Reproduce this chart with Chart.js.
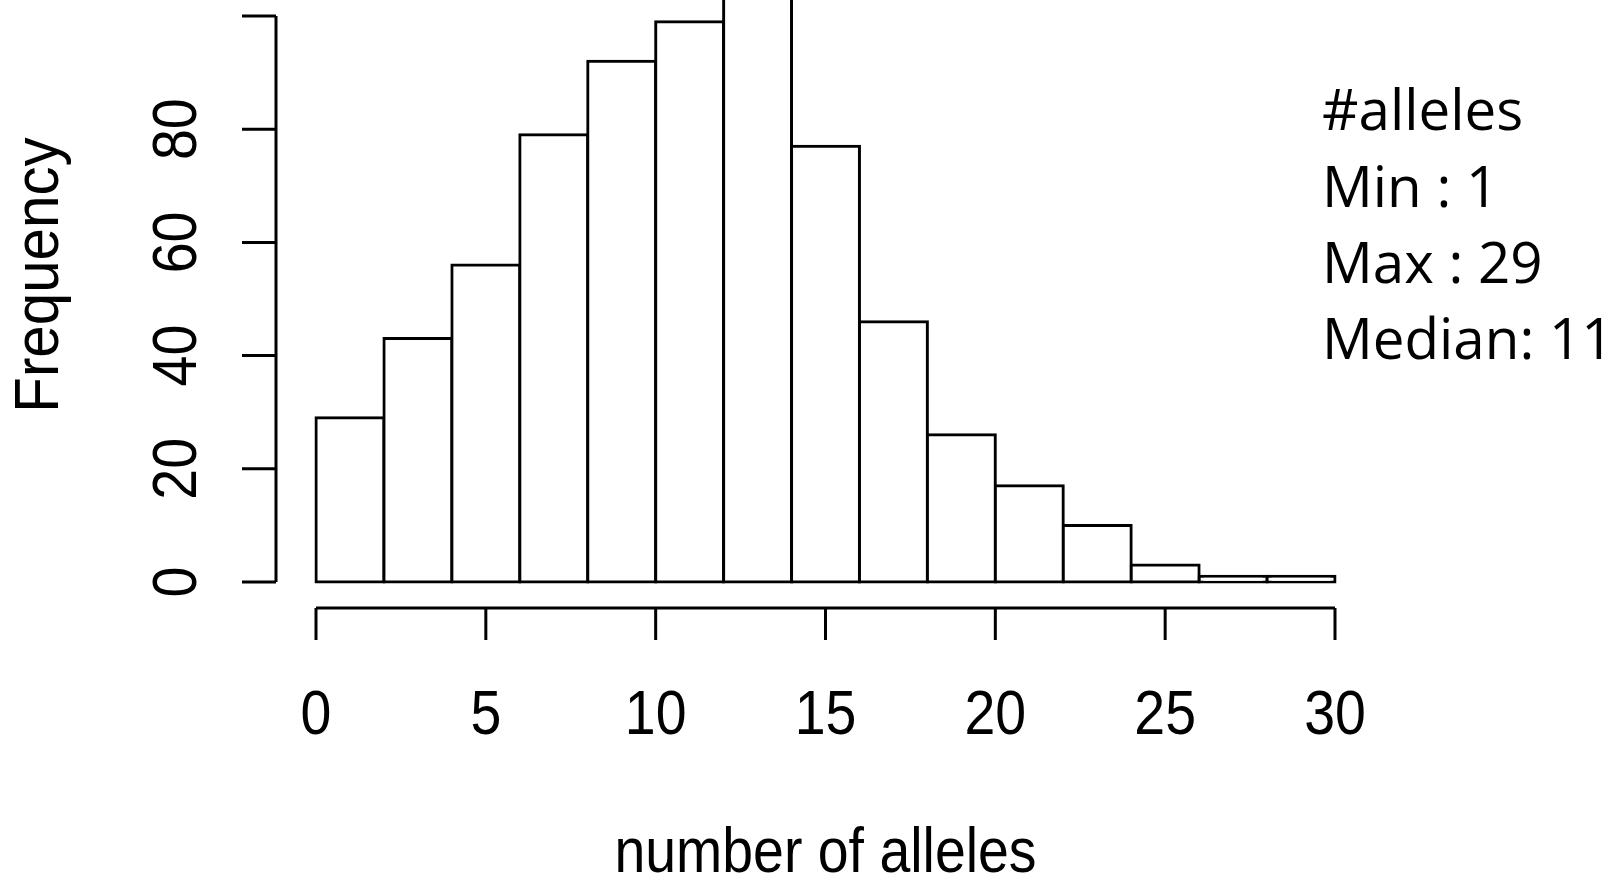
<!DOCTYPE html>
<html>
<head>
<meta charset="utf-8">
<title>number of alleles</title>
<style>
  html, body { margin: 0; padding: 0; background: #fff; overflow: hidden; }
</style>
</head>
<body>
<canvas id="hist" width="1618" height="880"></canvas>
<script src="https://cdn.jsdelivr.net/npm/chart.js@4/dist/chart.umd.min.js"></script>
<script>
// histogram bins (width 2, centre values) and their counts
const binMids = [1, 3, 5, 7, 9, 11, 13, 15, 17, 19, 21, 23, 25, 27, 29];
const frequency = [29, 43, 56, 79, 92, 99, 112, 77, 46, 26, 17, 10, 3, 1, 1];
const xTicks = [0, 5, 10, 15, 20, 25, 30];
const yTicks = [0, 20, 40, 60, 80, 100];
// the label of the top tick is cut off in the original picture
const yTickLabels = ["0", "20", "40", "60", "80", ""];
const statsLines = ["#alleles", "Min : 1", "Max : 29", "Median: 11"];

// draw text slightly condensed, like the R device font
function drawNarrow(ctx, text, x, y, rot, sx) {
	ctx.save();
	ctx.translate(x, y);
	ctx.rotate(rot);
	ctx.scale(sx || 0.88, 1);
	ctx.fillText(text, 0, 0);
	ctx.restore();
}

// base-R style axes: detached from the bars, only spanning the tick range
const rAxes = {
	id: "rAxes",
	afterDraw(chart) {
		const ctx = chart.ctx;
		const xs = chart.scales.x;
		const ys = chart.scales.y;
		ctx.save();
		ctx.strokeStyle = "#000";
		ctx.lineWidth = 3;

		// x axis
		const xLineY = 608;
		const xLeft = xs.getPixelForValue(xTicks[0]);
		const xRight = xs.getPixelForValue(xTicks[xTicks.length - 1]);
		ctx.beginPath();
		ctx.moveTo(xLeft, xLineY);
		ctx.lineTo(xRight, xLineY);
		xTicks.forEach((v) => {
			const px = xs.getPixelForValue(v);
			ctx.moveTo(px, xLineY);
			ctx.lineTo(px, xLineY + 32);
		});
		ctx.stroke();

		// y axis
		const yLineX = 276;
		ctx.beginPath();
		ctx.moveTo(yLineX, ys.getPixelForValue(yTicks[0]));
		ctx.lineTo(yLineX, ys.getPixelForValue(yTicks[yTicks.length - 1]));
		yTicks.forEach((v) => {
			const py = ys.getPixelForValue(v);
			ctx.moveTo(yLineX, py);
			ctx.lineTo(yLineX - 34, py);
		});
		ctx.stroke();

		// tick labels and axis titles
		ctx.fillStyle = "#000";
		ctx.font = '63px "Liberation Sans", Arial, sans-serif';
		ctx.textAlign = "center";
		ctx.textBaseline = "alphabetic";
		xTicks.forEach((v) => drawNarrow(ctx, String(v), xs.getPixelForValue(v), 734, 0));
		yTicks.forEach((v, i) => drawNarrow(ctx, yTickLabels[i], 196, ys.getPixelForValue(v), -Math.PI / 2));
		drawNarrow(ctx, "number of alleles", (xLeft + xRight) / 2, 872, 0);
		drawNarrow(ctx, "Frequency", 58, 275, -Math.PI / 2, 0.925);

		// summary text on the right
		ctx.font = '56.5px "Open Sans", sans-serif';
		ctx.textAlign = "left";
		const baselines = [130, 207, 283, 359];
		statsLines.forEach((line, i) => ctx.fillText(line, 1322, baselines[i]));
		ctx.restore();
	},
};

const ctx = document.getElementById("hist").getContext("2d");
new Chart(ctx, {
	type: "bar",
	data: {
		datasets: [
			{
				data: binMids.map((m, i) => ({ x: m, y: frequency[i] })),
				backgroundColor: "#fff",
				borderColor: "#000",
				borderWidth: 3,
				borderSkipped: false,
				inflateAmount: 1.5, // centre the outline on the bin edges
				barPercentage: 1,
				categoryPercentage: 1,
				clip: false,
			},
		],
	},
	options: {
		responsive: false,
		animation: false,
		devicePixelRatio: 1,
		layout: {
			padding: { left: 316, right: 283, top: 16, bottom: 298 },
		},
		plugins: {
			legend: { display: false },
			tooltip: { enabled: false },
		},
		scales: {
			x: { type: "linear", min: 0, max: 30, offset: false, display: false },
			y: { min: 0, max: 100, display: false },
		},
	},
	plugins: [rAxes],
});
</script>
</body>
</html>
